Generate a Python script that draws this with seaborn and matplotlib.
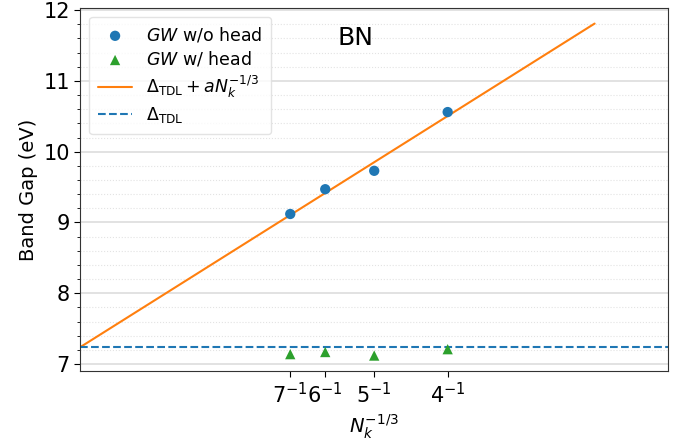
import numpy as np
import matplotlib
matplotlib.use("Agg")
import matplotlib.pyplot as plt
import seaborn as sns
from matplotlib.ticker import MultipleLocator

# values
n_k = [7, 6, 5, 4]
x_vals = [1 / n for n in n_k]
gap_no_head = [9.12, 9.47, 9.73, 10.56]
gap_head = [7.14, 7.17, 7.12, 7.21]
fit_x = [0.0, 0.35]
fit_y = [7.24, 11.81]
delta_tdl = 7.24
tick_labels = [r"$7^{-1}$", r"$6^{-1}$", r"$5^{-1}$", r"$4^{-1}$"]

sns.set_style("ticks")
plt.rcParams["font.family"] = ["DejaVu Sans"]
plt.rcParams["mathtext.fontset"] = "dejavusans"
for key in ["text.color", "axes.labelcolor", "xtick.color", "ytick.color"]:
    plt.rcParams[key] = "black"

fig, ax = plt.subplots(figsize=(6.81, 4.45), dpi=100)

sns.scatterplot(x=x_vals, y=gap_no_head, ax=ax, color="#1f77b4", marker="o",
                s=55, edgecolor="none", label=r"$GW$ w/o head", zorder=3)
sns.scatterplot(x=x_vals, y=gap_head, ax=ax, color="#2ca02c", marker="^",
                s=55, edgecolor="none", label=r"$GW$ w/ head", zorder=3)
sns.lineplot(x=fit_x, y=fit_y, ax=ax, color="#ff7f0e", linewidth=1.5,
             label=r"$\Delta_{\mathrm{TDL}} + aN_k^{-1/3}$")
ax.axhline(delta_tdl, color="#1f77b4", linestyle="--", linewidth=1.5,
           label=r"$\Delta_{\mathrm{TDL}}$")

ax.set_xlim(0, 0.4)
ax.set_ylim(6.9, 12.03)
ax.set_xticks(x_vals)
ax.set_xticklabels(tick_labels)
ax.yaxis.set_major_locator(MultipleLocator(1))
ax.yaxis.set_minor_locator(MultipleLocator(0.2))
ax.tick_params(axis="both", which="major", labelsize=15, length=4)
ax.tick_params(axis="y", which="minor", length=2.5)

ax.grid(True, axis="y", which="major", color="#dddddd", linewidth=1.2)
ax.grid(True, axis="y", which="minor", color="#e3e3e3", linestyle=":", linewidth=0.8)
ax.set_axisbelow(True)

for sp in ax.spines.values():
    sp.set_color("#333333")

ax.set_xlabel(r"$N_k^{-1/3}$", fontsize=14)
ax.set_ylabel("Band Gap (eV)", fontsize=14)
ax.text(0.187, 11.6, "BN", fontsize=18, ha="center", va="center")

ax.legend(loc="upper left", fontsize=12.5, frameon=True, framealpha=0.8,
          edgecolor="#dddddd", borderpad=0.5, labelspacing=0.3)

fig.subplots_adjust(left=0.118, right=0.981, top=0.982, bottom=0.166)
fig.savefig("out.png", dpi=100)
